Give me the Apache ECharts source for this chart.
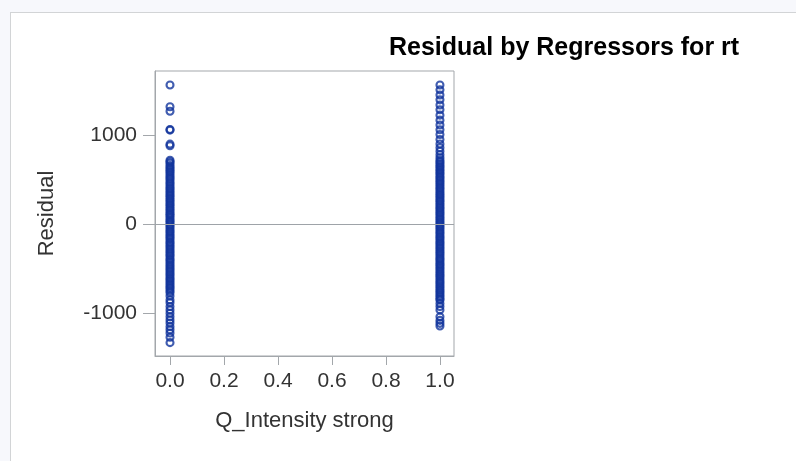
<!DOCTYPE html>
<html>
<head>
<meta charset="utf-8">
<title>Residual by Regressors for rt</title>
<script src="https://cdn.jsdelivr.net/npm/echarts@6/dist/echarts.min.js"></script>
<style>
  html, body { margin: 0; padding: 0; background: #f7f8fc; }
  #frame {
    position: absolute; left: 10px; top: 12px; width: 800px; height: 460px;
    background: #fff; border: 1px solid #d2d4d6;
  }
  #chart { position: absolute; left: 0; top: 0; width: 796px; height: 461px; }
</style>
</head>
<body>
<div id="frame"></div>
<div id="chart"></div>
<script>
// residuals for Q_Intensity strong = 0
const residualsAt0 = [
  1565, 1320, 1270, 1065, 1058, 900, 882,
  720, 702, 686, 661, 640, 622, 601, 585, 562, 540, 519, 500, 476, 455,
  432, 410, 394, 371, 352, 330, 311, 290, 271, 250, 229, 210, 188, 170,
  150, 127, 110, 92, 70, 48, 31, 12, -9, -28, -51, -72, -90, -112, -131,
  -152, -170, -196, -214, -236, -255, -278, -299, -321, -342, -360, -386,
  -405, -426, -449, -470, -491, -512, -534, -556, -575, -600, -619, -641,
  -663, -684, -706, -724, -748, -770,
  -805, -850, -882, -925, -962, -1000, -1040, -1076, -1110, -1150,
  -1186, -1222, -1270, -1330
];
// residuals for Q_Intensity strong = 1
const residualsAt1 = [
  1565, 1510, 1452, 1398, 1340, 1286, 1226, 1170, 1116, 1062, 1008, 952,
  902, 860, 821, 781, 748,
  720, 699, 680, 658, 641, 619, 600, 580, 561, 538, 520, 497, 478, 458,
  437, 416, 398, 376, 355, 334, 316, 295, 274, 256, 233, 214, 192, 174,
  153, 132, 114, 93, 72, 53, 31, 12, -8, -29, -48, -70, -91, -110, -133,
  -151, -172, -195, -213, -234, -256, -274, -297, -318, -337, -359, -381,
  -399, -420, -443, -461, -482, -503, -524, -546, -566, -585, -607, -628,
  -650, -669, -690, -711, -732, -752, -773, -794, -815, -836, -850,
  -890, -925, -962, -1040, -1080, -1113, -1143
];
const xTicks = [0, 0.2, 0.4, 0.6, 0.8, 1.0];
const yTicks = [-1000, 0, 1000];

const points = [];
residualsAt0.forEach(function (r) { points.push([0, r]); });
residualsAt1.forEach(function (r) { points.push([1, r]); });

const chart = echarts.init(document.getElementById('chart'));
const axisColor = '#a3a7ab';
const font = 'Liberation Sans, Arial, sans-serif';

chart.setOption({
  animation: false,
  title: {
    text: 'Residual by Regressors for rt',
    left: 384,
    top: 31,
    textStyle: { fontFamily: font, fontSize: 25, fontWeight: 'bold', color: '#000' }
  },
  grid: {
    left: 155, top: 71, width: 299, height: 285,
    show: true, borderColor: axisColor, borderWidth: 1, backgroundColor: '#fff'
  },
  xAxis: {
    type: 'value',
    min: -0.0556,
    max: 1.052,
    name: 'Q_Intensity strong',
    nameLocation: 'middle',
    nameGap: 54,
    nameTextStyle: { fontFamily: font, fontSize: 22, color: '#333' },
    axisLine: { show: true, onZero: false, lineStyle: { color: axisColor } },
    axisTick: { show: true, length: 9, customValues: xTicks, lineStyle: { color: axisColor } },
    axisLabel: {
      customValues: xTicks, margin: 15, fontFamily: font, fontSize: 21, color: '#333',
      formatter: function (v) { return v.toFixed(1); }
    },
    splitLine: { show: false }
  },
  yAxis: {
    type: 'value',
    min: -1480,
    max: 1722,
    name: 'Residual',
    nameLocation: 'middle',
    nameGap: 97,
    nameTextStyle: { fontFamily: font, fontSize: 22, color: '#333' },
    axisLine: { show: true, onZero: false, lineStyle: { color: axisColor } },
    axisTick: { show: true, length: 12, customValues: yTicks, lineStyle: { color: axisColor } },
    axisLabel: {
      customValues: yTicks, margin: 18, fontFamily: font, fontSize: 21, color: '#333',
      formatter: function (v) { return String(v); }
    },
    splitLine: { show: false }
  },
  series: [{
    type: 'scatter',
    data: points,
    symbol: 'circle',
    symbolSize: 7,
    itemStyle: { color: 'rgba(0,0,0,0)', borderColor: '#12349c', borderWidth: 2.1 },
    markLine: {
      silent: true,
      symbol: 'none',
      label: { show: false },
      lineStyle: { color: '#9ea3a8', width: 1, type: 'solid' },
      data: [{ yAxis: 0 }]
    }
  }]
});
</script>
</body>
</html>
